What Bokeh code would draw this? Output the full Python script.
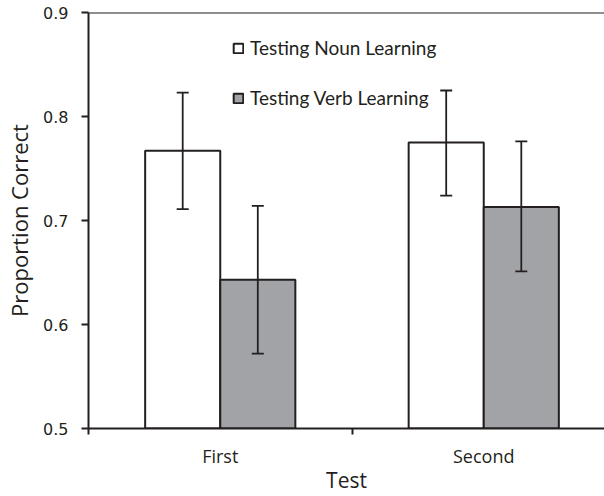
from bokeh.plotting import figure
from bokeh.models import (ColumnDataSource, Whisker, TeeHead, FixedTicker, Span,
                          Legend, LegendItem, Range1d)
from bokeh.embed import file_html
from bokeh.resources import INLINE

# ---- data ----
tests = ["First", "Second"]
noun_mean = [0.767, 0.775]
noun_upper = [0.823, 0.825]
noun_lower = [0.711, 0.724]
verb_mean = [0.643, 0.713]
verb_upper = [0.714, 0.776]
verb_lower = [0.572, 0.651]
y_ticks = [0.5, 0.6, 0.7, 0.8, 0.9]
series_labels = ["Testing Noun Learning", "Testing Verb Learning"]

DARK = "#231f20"
GRAY = "#a2a3a6"
AXFONT = "Open Sans"
TICKFONT = "DejaVu Sans"
LEGFONT = "Lato"

centers = [i + 0.5 for i in range(len(tests))]
bar_w = 0.285
off = 0.1425

noun_src = ColumnDataSource(dict(x=[c - off for c in centers], top=noun_mean,
                                 upper=noun_upper, lower=noun_lower))
verb_src = ColumnDataSource(dict(x=[c + off for c in centers], top=verb_mean,
                                 upper=verb_upper, lower=verb_lower))

p = figure(width=604, height=496, output_backend="svg", toolbar_location=None,
           x_range=Range1d(0, 516 / 263.5), y_range=Range1d(0.5, 0.9),
           min_border_left=88, min_border_right=0, min_border_top=12,
           min_border_bottom=67)
p.outline_line_color = None
p.grid.visible = False
p.background_fill_color = "white"

r_noun = p.vbar(x="x", top="top", bottom=0.5, width=bar_w, source=noun_src,
                fill_color="white", line_color=DARK, line_width=2)
r_verb = p.vbar(x="x", top="top", bottom=0.5, width=bar_w, source=verb_src,
                fill_color=GRAY, line_color=DARK, line_width=2)

for src in (noun_src, verb_src):
    w = Whisker(source=src, base="x", upper="upper", lower="lower",
                line_color=DARK, line_width=1.8, level="overlay",
                upper_head=TeeHead(size=12, line_color=DARK, line_width=1.8),
                lower_head=TeeHead(size=12, line_color=DARK, line_width=1.8))
    p.add_layout(w)

p.add_layout(Span(location=0.9, dimension="width", line_color=DARK, line_width=2))

# y axis
ya = p.yaxis[0]
ya.ticker = FixedTicker(ticks=y_ticks, minor_ticks=[])
ya.axis_line_color = DARK
ya.axis_line_width = 2
ya.major_tick_line_color = DARK
ya.major_tick_line_width = 2
ya.major_tick_out = 7
ya.major_tick_in = 0
ya.major_label_text_font = TICKFONT
ya.major_label_text_font_size = "16px"
ya.major_label_text_color = DARK
ya.major_label_standoff = 13
ya.axis_label = "Proportion Correct"
ya.axis_label_text_font = AXFONT
ya.axis_label_text_font_size = "22px"
ya.axis_label_text_font_style = "normal"
ya.axis_label_text_color = DARK
ya.axis_label_standoff = 6

# x axis
xa = p.xaxis[0]
xa.ticker = FixedTicker(ticks=centers, minor_ticks=[0, 1, 2])
xa.major_label_overrides = {c: t for c, t in zip(centers, tests)}
xa.axis_line_color = DARK
xa.axis_line_width = 2
xa.major_tick_out = 0
xa.major_tick_in = 0
xa.minor_tick_line_color = DARK
xa.minor_tick_line_width = 2
xa.minor_tick_out = 6
xa.minor_tick_in = 0
xa.major_label_text_font = AXFONT
xa.major_label_text_font_size = "18px"
xa.major_label_text_color = DARK
xa.major_label_standoff = 9
xa.axis_label = "Test"
xa.axis_label_text_font = AXFONT
xa.axis_label_text_font_size = "21px"
xa.axis_label_text_font_style = "normal"
xa.axis_label_text_color = DARK
xa.axis_label_standoff = -5

legend = Legend(items=[LegendItem(label=series_labels[0], renderers=[r_noun]),
                       LegendItem(label=series_labels[1], renderers=[r_verb])],
                location=(134, 309), orientation="vertical",
                glyph_width=12, glyph_height=12, label_standoff=6,
                label_height=20, spacing=27, padding=10,
                label_text_font=LEGFONT, label_text_font_size="19px",
                label_text_color=DARK,
                border_line_alpha=0, background_fill_alpha=0)
p.add_layout(legend)

open("out.html", "w").write(file_html(p, INLINE))
